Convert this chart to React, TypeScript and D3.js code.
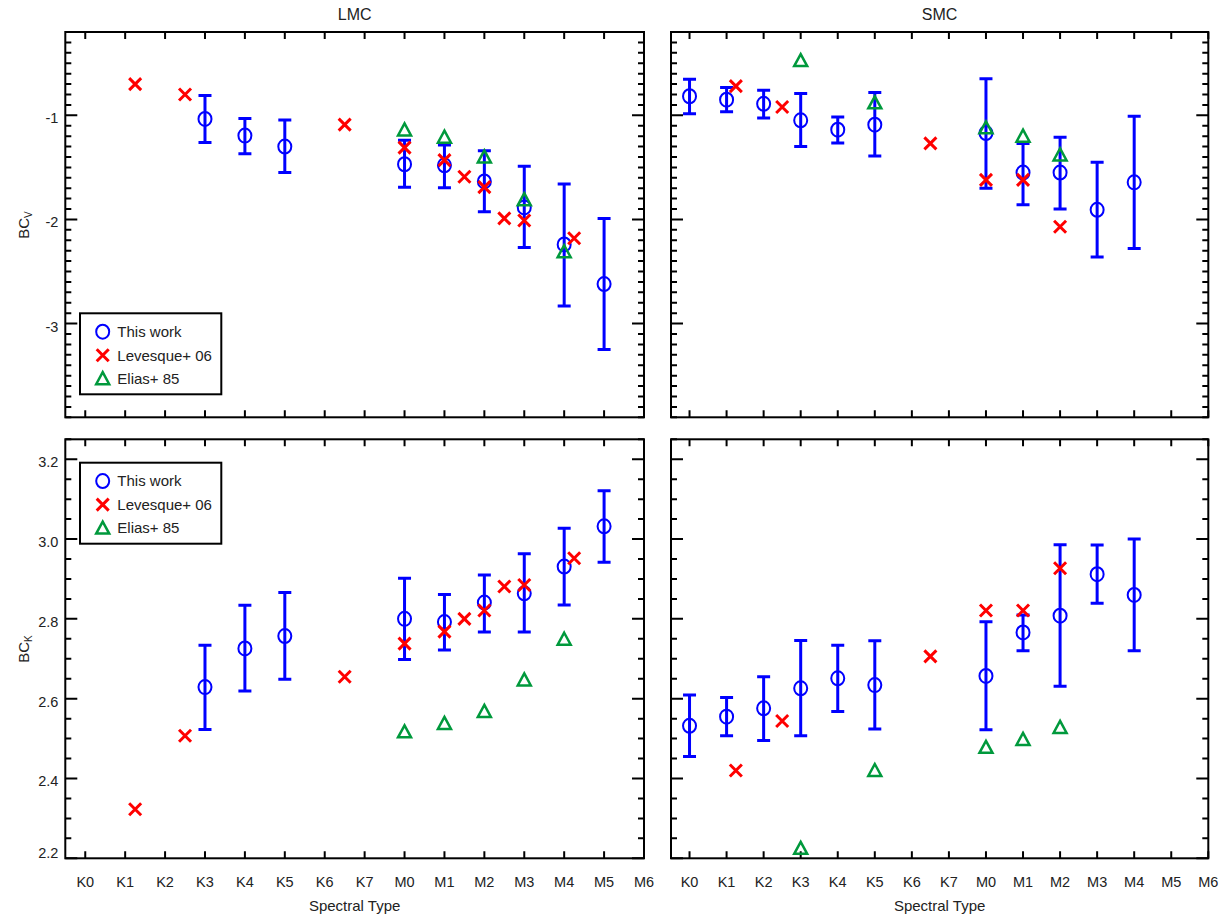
import React from 'react';
import * as d3 from 'd3';

const spectralTypes = ['K0', 'K1', 'K2', 'K3', 'K4', 'K5', 'K6', 'K7', 'M0', 'M1', 'M2', 'M3', 'M4', 'M5', 'M6'];

// LMC — this work
const lmcWorkX = [3, 4, 5, 8, 9, 10, 11, 12, 13];
const lmcBCV = [-1.035, -1.195, -1.3, -1.47, -1.48, -1.635, -1.885, -2.24, -2.62];
const lmcBCVHi = [-0.81, -1.03, -1.045, -1.24, -1.285, -1.34, -1.49, -1.66, -1.99];
const lmcBCVLo = [-1.26, -1.37, -1.55, -1.69, -1.695, -1.925, -2.27, -2.83, -3.25];
const lmcBCK = [2.629, 2.726, 2.757, 2.8, 2.792, 2.841, 2.864, 2.931, 3.032];
const lmcBCKHi = [2.734, 2.834, 2.866, 2.902, 2.861, 2.91, 2.963, 3.027, 3.121];
const lmcBCKLo = [2.523, 2.619, 2.649, 2.698, 2.722, 2.767, 2.767, 2.835, 2.942];

// LMC — Levesque+ 06
const lmcLevX = [1.25, 2.5, 6.5, 8, 9, 9.5, 10, 10.5, 11, 12.25];
const lmcLevBCV = [-0.7, -0.8, -1.09, -1.31, -1.43, -1.59, -1.69, -1.99, -2.01, -2.18];
const lmcLevBCK = [2.323, 2.507, 2.655, 2.738, 2.768, 2.8, 2.821, 2.881, 2.885, 2.952];

// LMC — Elias+ 85
const lmcEliasX = [8, 9, 10, 11, 12];
const lmcEliasBCV = [-1.14, -1.21, -1.4, -1.81, -2.31];
const lmcEliasBCK = [2.517, 2.538, 2.568, 2.647, 2.749];

// SMC — this work
const smcWorkX = [0, 1, 2, 3, 4, 5, 8, 9, 10, 11, 12];
const smcBCV = [-0.817, -0.85, -0.89, -1.048, -1.138, -1.09, -1.17, -1.55, -1.55, -1.907, -1.644];
const smcBCVHi = [-0.654, -0.734, -0.76, -0.79, -1.016, -0.78, -0.65, -1.27, -1.21, -1.45, -1.01];
const smcBCVLo = [-0.984, -0.965, -1.026, -1.3, -1.266, -1.39, -1.7, -1.86, -1.9, -2.36, -2.28];
const smcBCK = [2.532, 2.555, 2.576, 2.626, 2.651, 2.634, 2.657, 2.766, 2.808, 2.912, 2.86];
const smcBCKHi = [2.609, 2.603, 2.655, 2.746, 2.734, 2.745, 2.793, 2.81, 2.986, 2.985, 3.0];
const smcBCKLo = [2.455, 2.507, 2.495, 2.507, 2.568, 2.524, 2.522, 2.72, 2.631, 2.839, 2.72];

// SMC — Levesque+ 06
const smcLevX = [1.25, 2.5, 6.5, 8, 9, 10];
const smcLevBCV = [-0.72, -0.92, -1.27, -1.62, -1.62, -2.07];
const smcLevBCK = [2.42, 2.544, 2.706, 2.821, 2.821, 2.927];

// SMC — Elias+ 85
const smcEliasX = [3, 5, 8, 9, 10];
const smcEliasBCV = [-0.474, -0.88, -1.12, -1.2, -1.38];
const smcEliasBCK = [2.225, 2.42, 2.478, 2.498, 2.528];

const bcvDomain = [-3.9, -0.2];
const bckDomain = [2.2, 3.25];
const bcvMajor = [-1, -2, -3];
const bcvLabels = ['-1', '-2', '-3'];
const bckMajor = [2.2, 2.4, 2.6, 2.8, 3.0, 3.2];
const bckLabels = ['2.2', '2.4', '2.6', '2.8', '3.0', '3.2'];

const BLUE = '#0000ff';
const RED = '#ff0000';
const GREEN = '#00993c';
const FONT = '"Liberation Sans", Arial, Helvetica, sans-serif';

type PanelProps = {
  x0: number; x1: number; y0: number; y1: number;
  yDomain: number[]; yMajor: number[]; yTickText: string[]; yMinorStep: number;
  yLabels: boolean; xLabels: boolean;
  workX: number[]; work: number[]; hi: number[]; lo: number[];
  levX: number[]; lev: number[];
  eliasX: number[]; elias: number[];
};

const Cross = ({ cx, cy, s = 6 }: { cx: number; cy: number; s?: number }) => (
  <path d={`M${cx - s},${cy - s}L${cx + s},${cy + s}M${cx - s},${cy + s}L${cx + s},${cy - s}`} stroke={RED} strokeWidth={3} fill="none" />
);
const Tri = ({ cx, cy }: { cx: number; cy: number }) => (
  <path d={`M${cx},${cy - 6.5}L${cx + 6.5},${cy + 5.5}L${cx - 6.5},${cy + 5.5}Z`} stroke={GREEN} strokeWidth={2.5} fill="none" strokeLinejoin="miter" />
);
const Circ = ({ cx, cy }: { cx: number; cy: number }) => (
  <ellipse cx={cx} cy={cy} rx={6.5} ry={7} stroke={BLUE} strokeWidth={2} fill="none" />
);

function Panel(p: PanelProps) {
  const xs = d3.scaleLinear().domain([-0.5, 14]).range([p.x0, p.x1]);
  const ys = d3.scaleLinear().domain(p.yDomain).range([p.y1, p.y0]);
  const [lo, hi] = p.yDomain;
  const minor: number[] = [];
  const n0 = Math.ceil(lo / p.yMinorStep - 1e-6);
  const n1 = Math.floor(hi / p.yMinorStep + 1e-6);
  for (let i = n0; i <= n1; i++) minor.push(+(i * p.yMinorStep).toFixed(4));
  const isMajor = (v: number) => p.yMajor.some((m) => Math.abs(m - v) < 1e-6);
  const xTicks = d3.range(0, 15);
  const ticks: string[] = [];
  xTicks.forEach((t) => {
    const x = xs(t);
    ticks.push(`M${x},${p.y1}V${p.y1 - 7}`);
    ticks.push(`M${x},${p.y0}V${p.y0 + 7}`);
  });
  minor.forEach((v) => {
    const y = ys(v);
    const len = isMajor(v) ? 12 : 6;
    ticks.push(`M${p.x0},${y}H${p.x0 + len}`);
    ticks.push(`M${p.x1},${y}H${p.x1 - len}`);
  });
  return (
    <g>
      <path d={ticks.join('')} stroke="#000" strokeWidth={2} fill="none" />
      <rect x={p.x0} y={p.y0} width={p.x1 - p.x0} height={p.y1 - p.y0} fill="none" stroke="#000" strokeWidth={2} />
      {p.yLabels && p.yMajor.map((v, i) => (
        <text key={v} x={p.x0 - 7} y={Math.min(ys(v) + 3, p.y1 - 5) + 5} textAnchor="end" fontSize={14.5} fontFamily={FONT} fill="#222">{p.yTickText[i]}</text>
      ))}
      {p.xLabels && xTicks.map((t) => (
        <text key={t} x={xs(t)} y={p.y1 + 29} textAnchor="middle" fontSize={14.5} fontFamily={FONT} fill="#222">{spectralTypes[t]}</text>
      ))}
      {p.workX.map((xv, i) => {
        const x = xs(xv);
        const yt = ys(p.hi[i]);
        const yb = ys(p.lo[i]);
        return (
          <g key={'w' + i}>
            <path d={`M${x},${yt}V${yb}M${x - 6.5},${yt}H${x + 6.5}M${x - 6.5},${yb}H${x + 6.5}`} stroke={BLUE} strokeWidth={3} fill="none" />
            <Circ cx={x} cy={ys(p.work[i])} />
          </g>
        );
      })}
      {p.levX.map((xv, i) => <Cross key={'l' + i} cx={xs(xv)} cy={ys(p.lev[i])} />)}
      {p.eliasX.map((xv, i) => <Tri key={'e' + i} cx={xs(xv)} cy={ys(p.elias[i])} />)}
    </g>
  );
}

function Legend({ top }: { top: number }) {
  const rows = [0, 23.5, 47];
  const lx = 102.7;
  const ty = top + 18.4;
  return (
    <g>
      <rect x={80} y={top} width={141.3} height={81} fill="#fff" stroke="#000" strokeWidth={2} />
      <Circ cx={lx} cy={ty + rows[0]} />
      <Cross cx={lx} cy={ty + rows[1]} />
      <Tri cx={lx} cy={ty + rows[2]} />
      {['This work', 'Levesque+ 06', 'Elias+ 85'].map((s, i) => (
        <text key={s} x={117.3} y={ty + rows[i] + 5.3} fontSize={15} fontFamily={FONT} fill="#222">{s}</text>
      ))}
    </g>
  );
}

export default function App() {
  const L = { x0: 65.3, x1: 644 };
  const R = { x0: 671, x1: 1208.3 };
  const T = { y0: 32, y1: 417.3 };
  const B = { y0: 439.3, y1: 858.3 };
  return (
    <svg width={1228} height={919} style={{ position: 'absolute', left: 0, top: 0, background: '#fff' }}>
      <rect width={1228} height={919} fill="#fff" />
      <text x={(L.x0 + L.x1) / 2} y={20} textAnchor="middle" fontSize={16} fontFamily={FONT} fill="#222">LMC</text>
      <text x={(R.x0 + R.x1) / 2} y={20} textAnchor="middle" fontSize={16} fontFamily={FONT} fill="#222">SMC</text>

      <Panel {...L} {...T} yDomain={bcvDomain} yMajor={bcvMajor} yTickText={bcvLabels} yMinorStep={0.1} yLabels xLabels={false}
        workX={lmcWorkX} work={lmcBCV} hi={lmcBCVHi} lo={lmcBCVLo}
        levX={lmcLevX} lev={lmcLevBCV} eliasX={lmcEliasX} elias={lmcEliasBCV} />
      <Panel {...R} {...T} yDomain={bcvDomain} yMajor={bcvMajor} yTickText={bcvLabels} yMinorStep={0.1} yLabels={false} xLabels={false}
        workX={smcWorkX} work={smcBCV} hi={smcBCVHi} lo={smcBCVLo}
        levX={smcLevX} lev={smcLevBCV} eliasX={smcEliasX} elias={smcEliasBCV} />
      <Panel {...L} {...B} yDomain={bckDomain} yMajor={bckMajor} yTickText={bckLabels} yMinorStep={0.05} yLabels xLabels
        workX={lmcWorkX} work={lmcBCK} hi={lmcBCKHi} lo={lmcBCKLo}
        levX={lmcLevX} lev={lmcLevBCK} eliasX={lmcEliasX} elias={lmcEliasBCK} />
      <Panel {...R} {...B} yDomain={bckDomain} yMajor={bckMajor} yTickText={bckLabels} yMinorStep={0.05} yLabels={false} xLabels
        workX={smcWorkX} work={smcBCK} hi={smcBCKHi} lo={smcBCKLo}
        levX={smcLevX} lev={smcLevBCK} eliasX={smcEliasX} elias={smcEliasBCK} />

      <Legend top={313.3} />
      <Legend top={462.7} />

      <text transform="translate(29,225) rotate(-90)" textAnchor="middle" fontSize={15} fontFamily={FONT} fill="#222">
        BC<tspan fontSize={10} dy={3}>V</tspan>
      </text>
      <text transform="translate(29,649) rotate(-90)" textAnchor="middle" fontSize={15} fontFamily={FONT} fill="#222">
        BC<tspan fontSize={10} dy={3}>K</tspan>
      </text>

      <text x={(L.x0 + L.x1) / 2} y={911} textAnchor="middle" fontSize={15} fontFamily={FONT} fill="#222">Spectral Type</text>
      <text x={(R.x0 + R.x1) / 2} y={911} textAnchor="middle" fontSize={15} fontFamily={FONT} fill="#222">Spectral Type</text>
    </svg>
  );
}
